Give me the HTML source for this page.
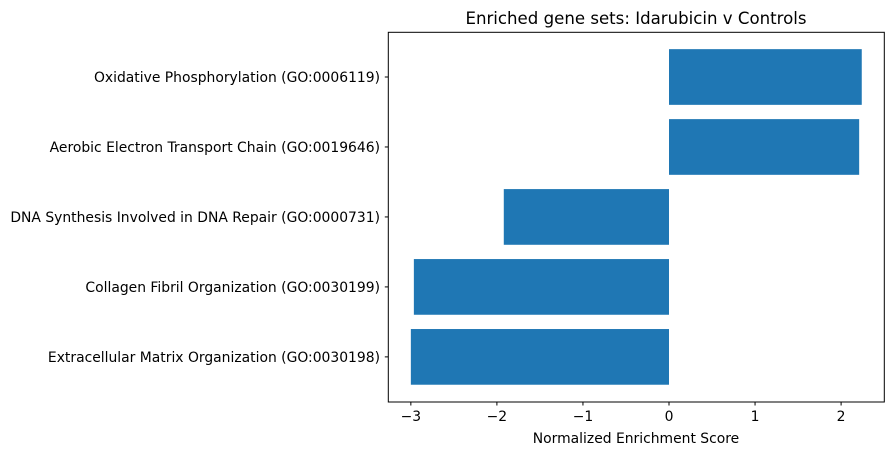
<!DOCTYPE html>
<html><head><meta charset="utf-8"><style>
body{margin:0;background:#fff;}
svg text{font-family:"DejaVu Sans","Liberation Sans",sans-serif;fill:#000;}
</style></head><body>
<svg width="894" height="455" xmlns="http://www.w3.org/2000/svg">
<rect width="894" height="455" fill="#fff"/>
<g id="bars"></g>
<g id="yticks"></g>
<g id="xticks"></g>
<rect x="388.3" y="32.3" width="496" height="369.7" fill="none" stroke="#000" stroke-width="1"/>
<text x="636" y="24" font-size="16.6" text-anchor="middle">Enriched gene sets: Idarubicin v Controls</text>
<text x="636" y="443" font-size="13.9" text-anchor="middle">Normalized Enrichment Score</text>
</svg>
<script>
const categories = ["Oxidative Phosphorylation (GO:0006119)","Aerobic Electron Transport Chain (GO:0019646)","DNA Synthesis Involved in DNA Repair (GO:0000731)","Collagen Fibril Organization (GO:0030199)","Extracellular Matrix Organization (GO:0030198)"];
const scores = [2.24, 2.21, -1.92, -2.965, -3.0];
const xTicks = [-3, -2, -1, 0, 1, 2];
const xTickLabels = ["\u22123","\u22122","\u22121","0","1","2"];

const NS = "http://www.w3.org/2000/svg";
const x = v => 669 + v * 86.05;
const yc = i => 77 + i * 69.97;
const bh = 55.7;
const bars = document.getElementById('bars');
const yt = document.getElementById('yticks');
const xt = document.getElementById('xticks');
categories.forEach((c, i) => {
  const v = scores[i];
  const r = document.createElementNS(NS, 'rect');
  r.setAttribute('x', Math.min(x(0), x(v)));
  r.setAttribute('width', Math.abs(x(v) - x(0)));
  r.setAttribute('y', yc(i) - bh / 2);
  r.setAttribute('height', bh);
  r.setAttribute('fill', '#1f77b4');
  
  
  bars.appendChild(r);
  const l = document.createElementNS(NS, 'line');
  l.setAttribute('x1', 388.3); l.setAttribute('x2', 384.8);
  l.setAttribute('y1', yc(i)); l.setAttribute('y2', yc(i));
  l.setAttribute('stroke', '#000');
  
  
  yt.appendChild(l);
  const t = document.createElementNS(NS, 'text');
  t.setAttribute('x', 380); t.setAttribute('y', yc(i) + 5);
  t.setAttribute('font-size', '13.9'); t.setAttribute('text-anchor', 'end');
  t.textContent = c;
  
  
  yt.appendChild(t);
});
xTicks.forEach((v, i) => {
  const l = document.createElementNS(NS, 'line');
  l.setAttribute('x1', x(v)); l.setAttribute('x2', x(v));
  l.setAttribute('y1', 402); l.setAttribute('y2', 405.5);
  l.setAttribute('stroke', '#000');
  
  
  xt.appendChild(l);
  const t = document.createElementNS(NS, 'text');
  t.setAttribute('x', x(v)); t.setAttribute('y', 421);
  t.setAttribute('font-size', '13.9'); t.setAttribute('text-anchor', 'middle');
  t.textContent = xTickLabels[i];
  
  
  xt.appendChild(t);
});
</script>
</body></html>
